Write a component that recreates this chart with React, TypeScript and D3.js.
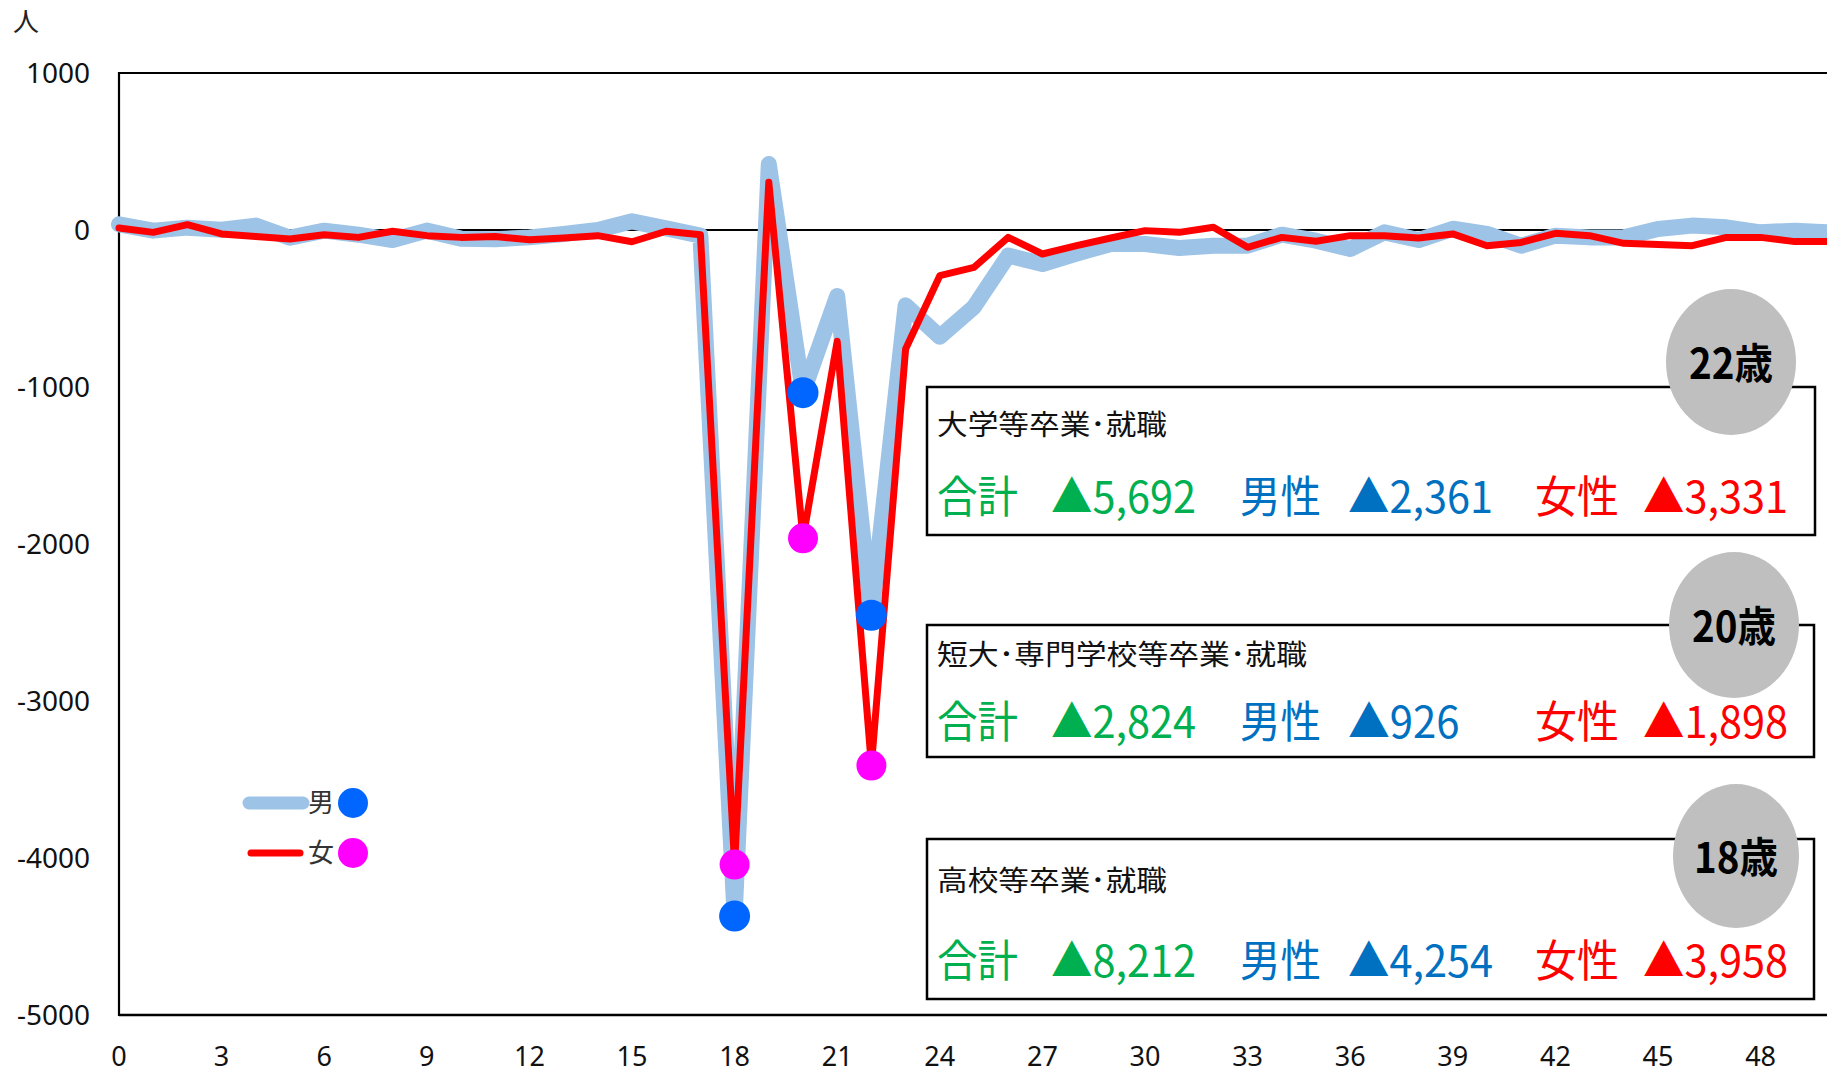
import React from "react";
import * as d3 from "d3";

// age categories (years)
const ages = [
  0, 1, 2, 3, 4, 5, 6, 7, 8, 9, 10, 11, 12, 13, 14, 15, 16, 17, 18, 19, 20, 21,
  22, 23, 24, 25, 26, 27, 28, 29, 30, 31, 32, 33, 34, 35, 36, 37, 38, 39, 40,
  41, 42, 43, 44, 45, 46, 47, 48, 49, 50,
];

// 男 (net migration, persons)
const male = [
  36, -4, 15, 2, 28, -49, -4, -30, -64, -4, -55, -59, -47, -25, 0, 55, 10, -36,
  -4370, 420, -1036, -420, -2454, -480, -680, -490, -163, -217, -150, -89, -89,
  -115, -100, -100, -30, -68, -121, -15, -64, 8, -25, -100, -36, -47, -47, 6,
  28, 17, -15, -4, -15,
];

// 女
const female = [
  13, -15, 34, -25, -42, -57, -30, -47, -8, -36, -47, -42, -62, -51, -36, -75,
  -8, -30, -4042, 304, -1964, -709, -3411, -758, -291, -238, -47, -153, -100,
  -51, -4, -15, 17, -110, -47, -72, -36, -36, -51, -25, -100, -79, -21, -36,
  -85, -93, -100, -47, -47, -74, -74,
];

const markerAges = [18, 20, 22];
const xTickLabels = [0, 3, 6, 9, 12, 15, 18, 21, 24, 27, 30, 33, 36, 39, 42, 45, 48];
const yTickLabels = [1000, 0, -1000, -2000, -3000, -4000, -5000];

const boxAges = ["22歳", "20歳", "18歳"];
const boxTitles = ["大学等卒業･就職", "短大･専門学校等卒業･就職", "高校等卒業･就職"];
const totalValues = ["▲5,692", "▲2,824", "▲8,212"];
const maleValues = ["▲2,361", "▲926", "▲4,254"];
const femaleValues = ["▲3,331", "▲1,898", "▲3,958"];

const W = 1827;
const H = 1074;

const x = d3.scaleLinear().domain([0, 50]).range([119, 1829]);
const y = d3.scaleLinear().domain([-5000, 1000]).range([1015, 73]);

const lineGen = d3
  .line<number>()
  .x((_, i) => x(ages[i]))
  .y((d) => y(d));

const CJK = "'Noto Sans CJK JP', 'Noto Sans', sans-serif";
const NUM = "'Noto Sans', 'DejaVu Sans', sans-serif";

// rough width for "▲1,234" strings in the condensed look of the original
const valueLen = (s: string) => {
  const digits = s.replace(/[^0-9]/g, "").length;
  const commas = s.replace(/[^,]/g, "").length;
  return 38 + digits * 24.5 + commas * 9;
};

const boxLayout = [
  { bx: 927, by: 387, bw: 888, bh: 148, ex: 1731, ey: 362, rx: 65, ry: 73, ty: 425, vy: 497 },
  { bx: 927, by: 625, bw: 887, bh: 132, ex: 1734, ey: 625, rx: 65, ry: 73, ty: 655, vy: 722 },
  { bx: 927, by: 839, bw: 887, bh: 160, ex: 1736, ey: 856, rx: 63, ry: 72, ty: 881, vy: 961 },
];

const titleLen = [230, 370, 230];

const App: React.FC = () => {
  return (
    <svg
      width={W}
      height={H}
      style={{ position: "absolute", left: 0, top: 0, background: "#fff" }}
    >
      {/* unit */}
      <text x={26} y={22} dy="0.36em" textAnchor="middle" fontFamily={CJK} fontSize={26} fill="#222">
        人
      </text>

      {/* y ticks */}
      {yTickLabels.map((v) => (
        <text key={v} x={90} y={y(v)} dy="0.36em" textAnchor="end" fontFamily={NUM} fontSize={28} fill="#111">
          {v}
        </text>
      ))}
      {/* x ticks */}
      {xTickLabels.map((a) => (
        <text key={a} x={x(a)} y={1056} dy="0.36em" textAnchor="middle" fontFamily={NUM} fontSize={27} fill="#111">
          {a}
        </text>
      ))}

      {/* frame */}
      <line x1={119} x2={W} y1={73} y2={73} stroke="#000" strokeWidth={2.2} />
      <line x1={119} x2={W} y1={1015} y2={1015} stroke="#000" strokeWidth={2.5} />
      <line x1={119} x2={119} y1={72} y2={1016} stroke="#000" strokeWidth={2.2} />
      {/* zero line */}
      <line x1={119} x2={W} y1={y(0)} y2={y(0)} stroke="#000" strokeWidth={2} />

      {/* series */}
      <path d={lineGen(male) || ""} fill="none" stroke="#9DC3E6" strokeWidth={16} strokeLinejoin="round" strokeLinecap="round" />
      <path d={lineGen(female) || ""} fill="none" stroke="#FF0000" strokeWidth={7} strokeLinejoin="round" strokeLinecap="round" />

      {markerAges.map((a) => (
        <circle key={"m" + a} cx={x(a)} cy={y(male[ages.indexOf(a)])} r={15.5} fill="#0066FF" />
      ))}
      {markerAges.map((a) => (
        <circle key={"f" + a} cx={x(a)} cy={y(female[ages.indexOf(a)])} r={15} fill="#FF00FF" />
      ))}

      {/* legend */}
      <line x1={249} x2={303} y1={803} y2={803} stroke="#9DC3E6" strokeWidth={13} strokeLinecap="round" />
      <text x={308} y={803} dy="0.36em" fontFamily={CJK} fontSize={26} fill="#333">男</text>
      <circle cx={353} cy={803} r={15} fill="#0066FF" />
      <line x1={251} x2={300} y1={853} y2={853} stroke="#FF0000" strokeWidth={7} strokeLinecap="round" />
      <text x={308} y={853} dy="0.36em" fontFamily={CJK} fontSize={26} fill="#333">女</text>
      <circle cx={353} cy={853} r={15} fill="#FF00FF" />

      {/* annotation boxes */}
      {boxLayout.map((b, i) => (
        <g key={i}>
          <rect x={b.bx} y={b.by} width={b.bw} height={b.bh} fill="#fff" stroke="#000" strokeWidth={2.5} />
          <ellipse cx={b.ex} cy={b.ey} rx={b.rx} ry={b.ry} fill="#BFBFBF" />
          <text
            x={b.ex}
            y={b.ey + 2}
            dy="0.36em"
            textAnchor="middle"
            fontFamily={CJK}
            fontWeight="bold"
            fontSize={42}
            textLength={84}
            lengthAdjust="spacingAndGlyphs"
            fill="#000"
          >
            {boxAges[i]}
          </text>
          <text
            x={937}
            y={b.ty}
            dy="0.36em"
            fontFamily={CJK}
            fontSize={28}
            textLength={titleLen[i]}
            lengthAdjust="spacingAndGlyphs"
            fill="#111"
          >
            {boxTitles[i]}
          </text>
          {[
            { lx: 937, label: "合計", lLen: 81, vx: 1051, val: totalValues[i], color: "#00B050" },
            { lx: 1240, label: "男性", lLen: 81, vx: 1348, val: maleValues[i], color: "#0070C0" },
            { lx: 1535, label: "女性", lLen: 84, vx: 1643, val: femaleValues[i], color: "#FF0000" },
          ].map((s) => (
            <g key={s.label}>
              <text
                x={s.lx}
                y={b.vy}
                dy="0.36em"
                fontFamily={CJK}
                fontSize={44}
                textLength={s.lLen}
                lengthAdjust="spacingAndGlyphs"
                fill={s.color}
              >
                {s.label}
              </text>
              <text
                x={s.vx}
                y={b.vy}
                dy="0.36em"
                fontFamily={CJK}
                fontSize={44}
                textLength={valueLen(s.val)}
                lengthAdjust="spacingAndGlyphs"
                fill={s.color}
              >
                {s.val}
              </text>
            </g>
          ))}
        </g>
      ))}
    </svg>
  );
};

export default App;
